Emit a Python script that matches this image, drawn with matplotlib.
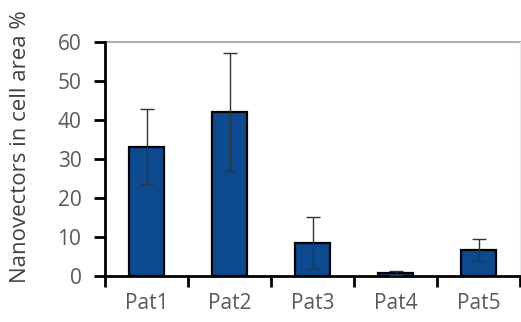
import matplotlib.pyplot as plt
import numpy as np

# Nanovector uptake per patient
patients = ["Pat1", "Pat2", "Pat3", "Pat4", "Pat5"]
means = [33.2, 42.1, 8.5, 0.8, 6.6]
errors = [9.6, 15.2, 6.6, 0.6, 2.8]
yticks = [0, 10, 20, 30, 40, 50, 60]

plt.rcParams['font.family'] = ['Open Sans', 'DejaVu Sans']
text_color = '#595959'

fig = plt.figure(figsize=(5.21, 3.22), dpi=100)
ax = fig.add_axes([105 / 521, 1 - 276 / 322, 415 / 521, 234 / 322])

x = np.arange(len(patients))
ax.bar(x, means, width=0.42, color='#0b4a8e', edgecolor='black', linewidth=1.6, zorder=3)
ax.errorbar(x, means, yerr=errors, fmt='none', ecolor='#333333', elinewidth=1,
            capsize=5, capthick=1, zorder=4)

ax.set_xlim(-0.5, len(patients) - 0.5)
ax.set_ylim(0, 60)
ax.set_yticks(yticks)
ax.set_xticks(x)
ax.set_xticklabels(patients)
ax.set_xticks(np.arange(-0.5, len(patients)), minor=True)

# top gridline at 60
ax.axhline(60, color='#b0b0b0', linewidth=1.5, zorder=1, clip_on=False)

ax.spines['top'].set_visible(False)
ax.spines['right'].set_color('#e8e8e8')
ax.spines['right'].set_linewidth(0.8)
ax.spines['left'].set_linewidth(2)
ax.spines['bottom'].set_linewidth(2)

ax.tick_params(axis='y', direction='out', length=8, width=2, labelsize=15,
               labelcolor=text_color, pad=9)
ax.tick_params(axis='x', which='major', length=0, labelsize=15, labelcolor=text_color, pad=12)
ax.tick_params(axis='x', which='minor', direction='out', length=8, width=2)

fig.text(21 / 521, 1 - 147 / 322, "Nanovectors in cell area %", rotation=90,
         ha='center', va='center', fontsize=16, color='#404040')

plt.savefig("out.png", dpi=100)
